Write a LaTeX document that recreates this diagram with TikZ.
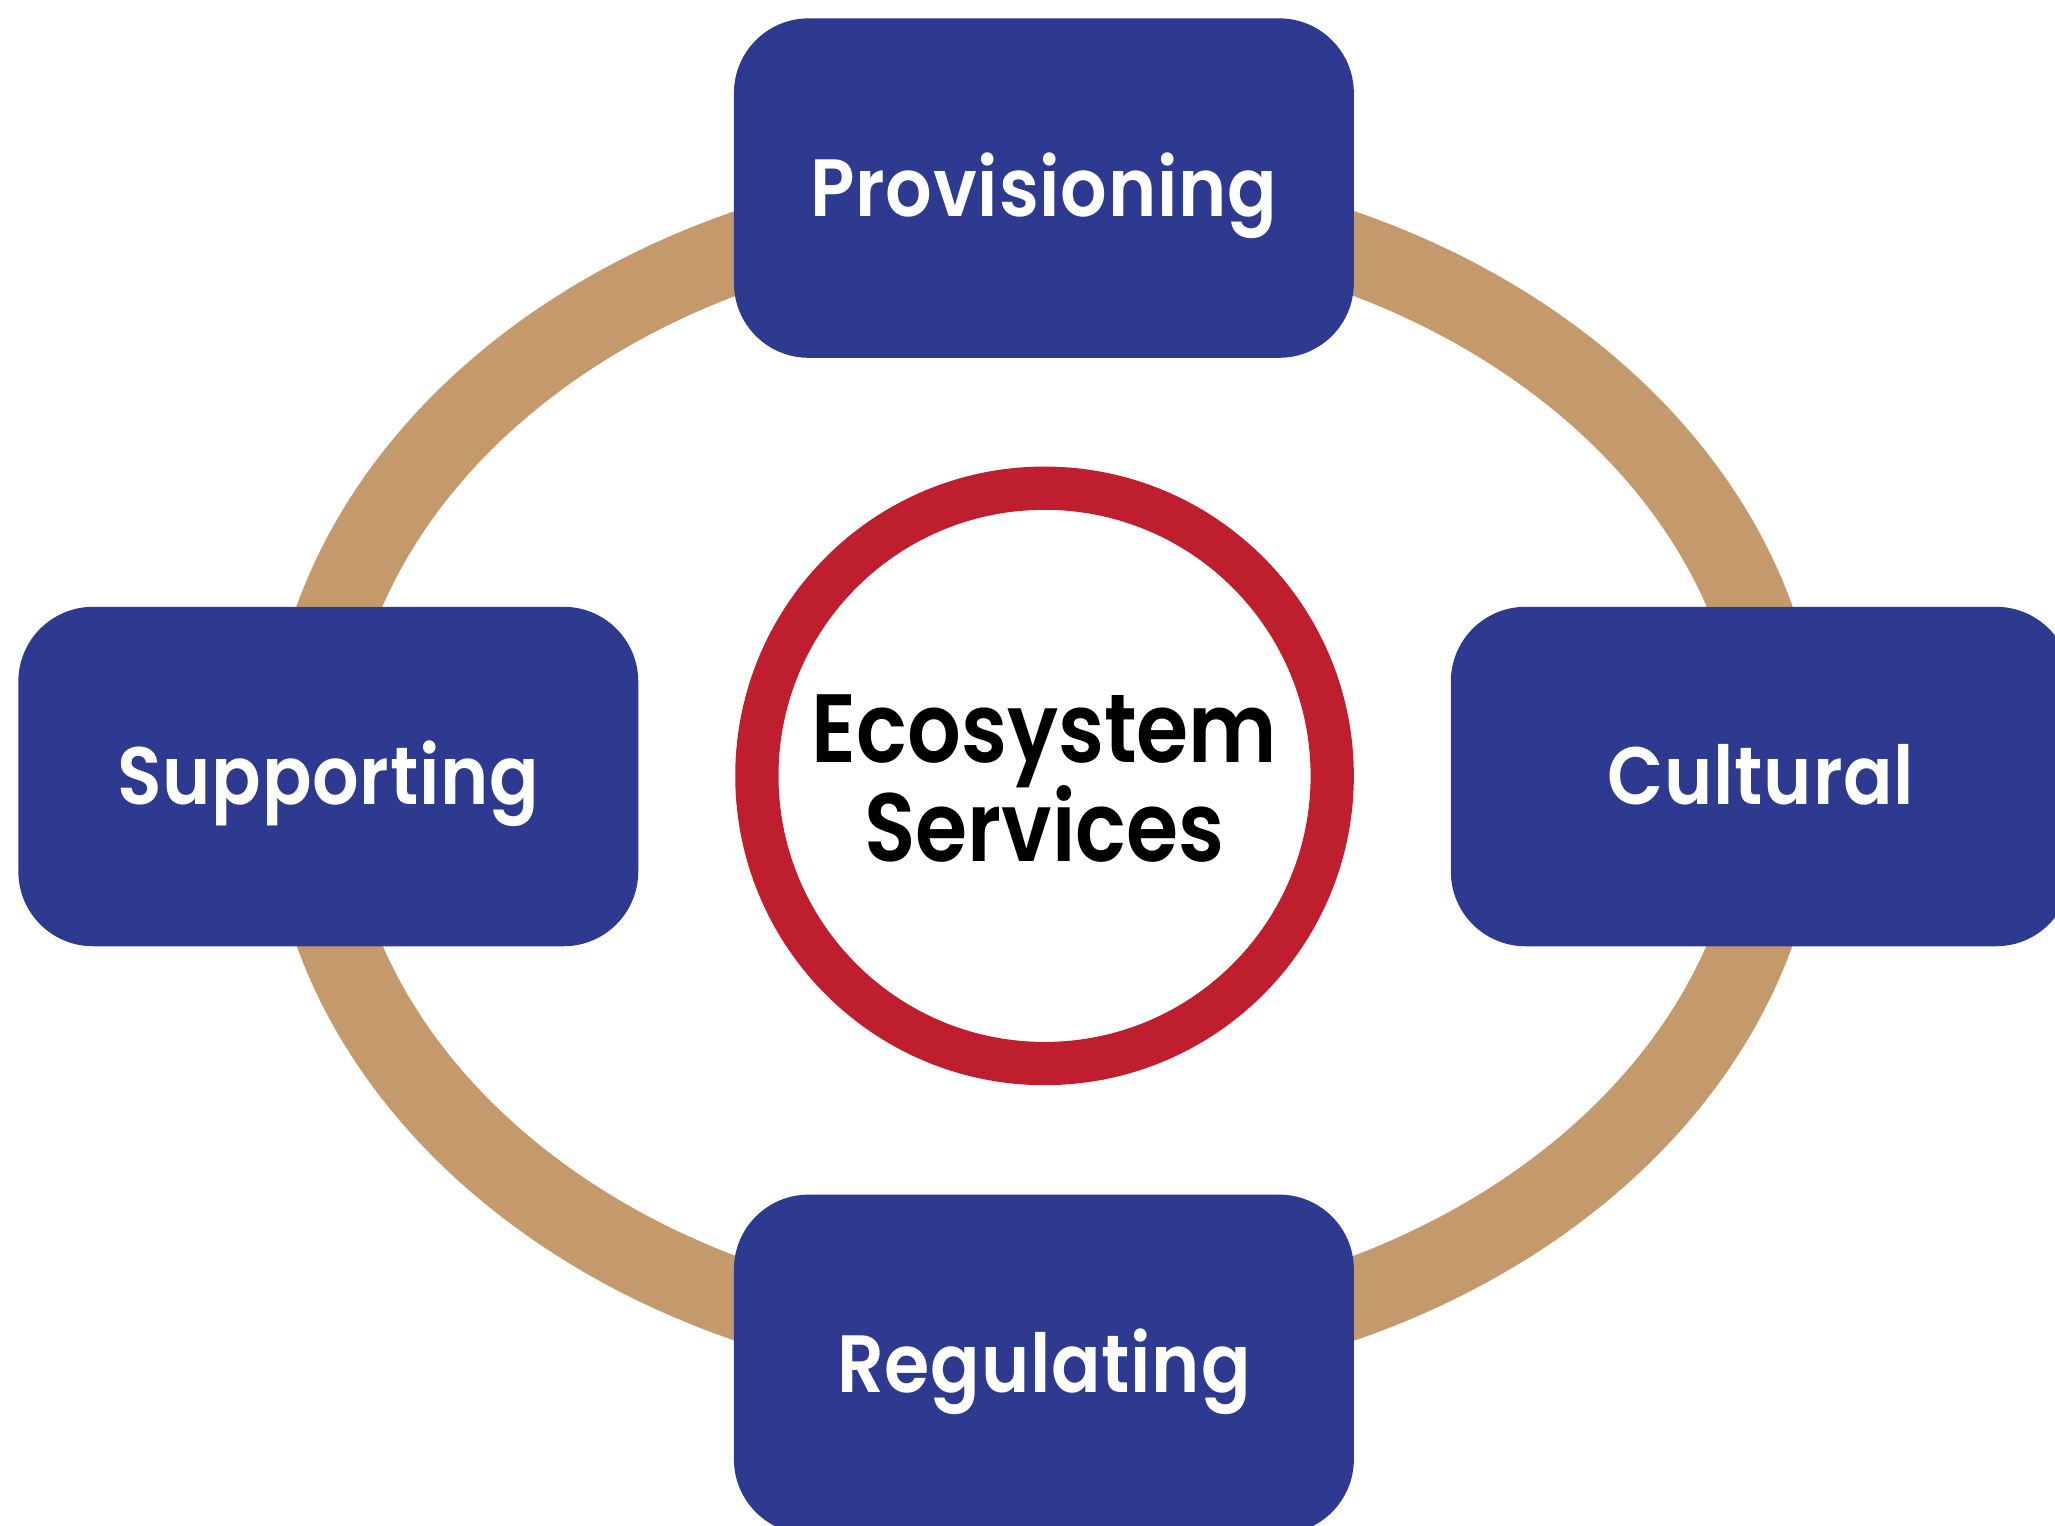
\documentclass[tikz,border=0pt]{standalone}
\usepackage{fontspec}
\newfontfamily\lblfont{Poppins SemiBold}[FakeStretch=0.9, LetterSpace=1]
\newfontfamily\ctrfont{Poppins SemiBold}[FakeStretch=0.87]
\definecolor{boxblue}{RGB}{45,58,143}
\definecolor{tan}{RGB}{196,154,108}
\definecolor{ringred}{RGB}{190,30,45}
\begin{document}
\begin{tikzpicture}[x=1pt,y=-1pt,
  svcbox/.style={fill=boxblue, draw=none, rounded corners=57pt, minimum width=473pt,
    minimum height=259pt, inner sep=0pt, text=white, text height=43.2pt, text depth=0pt,
    font=\lblfont\fontsize{62}{70}\selectfont},
  centertext/.style={anchor=base, inner sep=0pt, text=black,
    font=\ctrfont\fontsize{74}{80}\selectfont}]
\useasboundingbox (0,0) rectangle (1568,1164);
\clip (0,0) rectangle (1568,1164);
\fill[white] (0,0) rectangle (1568,1164);
\draw[tan, line width=61pt] (797,592) ellipse [x radius=563pt, y radius=439pt];
\node[circle, draw=ringred, fill=white, line width=33pt, minimum size=439pt, inner sep=0pt] (es) at (797,592) {};
\node[centertext] (eco) at (797,582) {Ecosystem};
\node[centertext] (ser) at (797,657) {Services};
\node[svcbox] (prov) at (796.5,143.5) {Provisioning};
\node[svcbox] (supp) at (250.5,592.5) {Supporting};
\node[svcbox] (cult) at (1343.5,592.5) {Cultural};
\node[svcbox] (reg) at (796.5,1041) {Regulating};
\end{tikzpicture}
\end{document}
